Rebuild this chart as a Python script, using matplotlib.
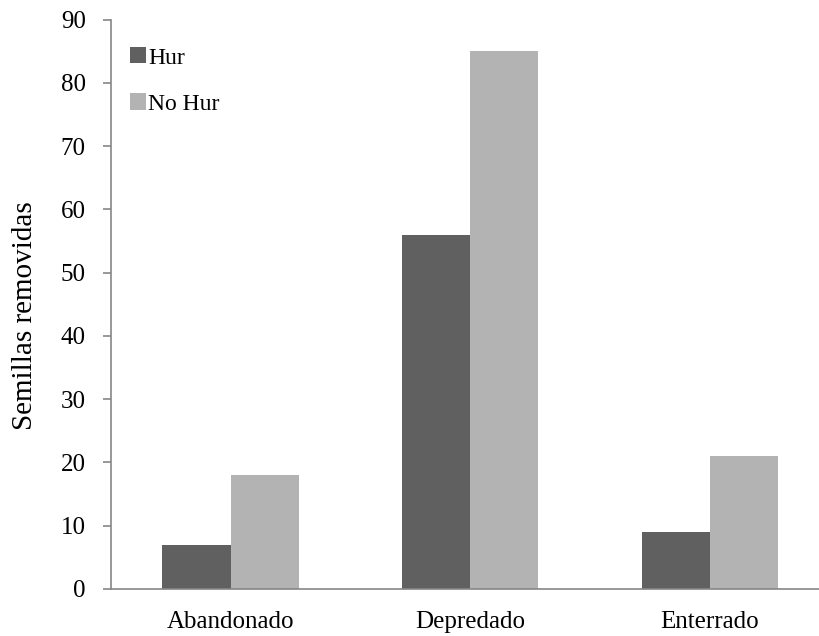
import numpy as np
import matplotlib.pyplot as plt

categories = ['Abandonado', 'Depredado', 'Enterrado']
hur = [7, 56, 9]
no_hur = [18, 85, 21]

plt.rcParams['font.family'] = ['Liberation Serif', 'DejaVu Serif']

fig = plt.figure(figsize=(8.2, 6.36), dpi=100)
# axes runs slightly past the right edge, as in the original
ax = fig.add_axes([0.135, 0.074, 0.877, 0.895])

x = np.arange(len(categories))
w = 0.284
ax.bar(x - w/2, hur, w, color='#606060', label='Hur')
ax.bar(x + w/2, no_hur, w, color='#b3b3b3', label='No Hur')

ax.set_xlim(-0.5, 2.5)
ax.set_ylim(0, 90)
ax.set_yticks(range(0, 91, 10))
ax.set_xticks(x)
ax.set_xticklabels(categories)
ax.tick_params(axis='x', length=0, pad=16, labelsize=18)
ax.tick_params(axis='y', length=6, width=1.2, color='#868686', labelsize=18, pad=12)
ax.set_ylabel('Semillas removidas', fontsize=21, labelpad=16)
ax.yaxis.label.set_y(0.48)

for s in ['top', 'right']:
    ax.spines[s].set_visible(False)
for s in ['left', 'bottom']:
    ax.spines[s].set_color('#868686')
    ax.spines[s].set_linewidth(1.2)

ax.legend(loc='upper left', bbox_to_anchor=(0.0, 0.985), frameon=False, fontsize=17,
          handlelength=0.68, handleheight=0.68, handletextpad=0.12, labelspacing=1.05,
          borderpad=0.3)

fig.savefig('out.png', dpi=100)
